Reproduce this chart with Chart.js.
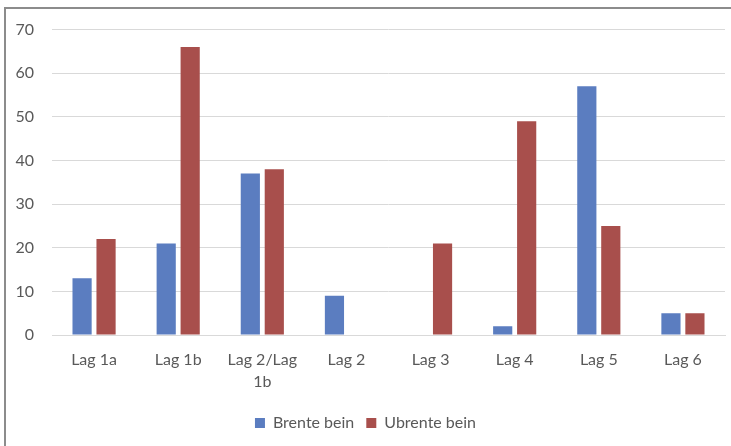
<!DOCTYPE html>
<html>
<head>
<meta charset="utf-8">
<script src="https://cdn.jsdelivr.net/npm/chart.js@4"></script>
<style>
  html, body { margin: 0; padding: 0; background: #fff; }
  #wrap {
    position: absolute; left: 4px; top: 7px;
    width: 727px; height: 439px;
    border-left: 2px solid #8c8c8c; border-top: 2px solid #8c8c8c;
    box-sizing: border-box;
  }
</style>
</head>
<body>
<div id="wrap"><canvas id="chart"></canvas></div>
<script>
'use strict';

var categories = ['Lag 1a', 'Lag 1b', ['Lag 2/Lag', '1b'], 'Lag 2', 'Lag 3', 'Lag 4', 'Lag 5', 'Lag 6'];
var brente = [13, 21, 37, 9, 0, 2, 57, 5];
var ubrente = [22, 66, 38, 0, 21, 49, 25, 5];
var yTicks = [0, 10, 20, 30, 40, 50, 60, 70];

Chart.defaults.font.family = 'Lato, "Open Sans", sans-serif';
Chart.defaults.color = '#595959';

var ctx = document.getElementById('chart').getContext('2d');
var chart = new Chart(ctx, {
    type: 'bar',
    data: {
        labels: categories,
        datasets: [{
            label: 'Brente bein',
            backgroundColor: '#5b7dc0',
            data: brente
        }, {
            label: 'Ubrente bein',
            backgroundColor: '#a84f4c',
            data: ubrente
        }]
    },
    options: {
        responsive: true,
        maintainAspectRatio: false,
        animation: false,
        categoryPercentage: 0.57,
        barPercentage: 0.8,
        layout: { padding: { top: 0, right: 6, bottom: 5, left: 0 } },
        plugins: {
            tooltip: { enabled: false },
            legend: {
                position: 'bottom',
                labels: { boxWidth: 10, boxHeight: 10, font: { size: 16 }, padding: 12 }
            }
        },
        scales: {
            x: {
                grid: { display: false },
                border: { color: '#d9d9d9' },
                ticks: { font: { size: 16, lineHeight: 1.35 }, maxRotation: 0, padding: 6 },
                afterFit: function (s) { s.height = 68; }
            },
            y: {
                min: 0, max: 70,
                afterBuildTicks: function (s) { s.ticks = yTicks.map(function (v) { return { value: v }; }); },
                grid: { color: '#d9d9d9', drawTicks: true, tickLength: 7, tickColor: 'rgba(0,0,0,0)' },
                border: { display: false },
                ticks: { font: { size: 16 }, padding: 11 },
                afterFit: function (s) { s.width = 46; }
            }
        }
    }
});
</script>
</body>
</html>
